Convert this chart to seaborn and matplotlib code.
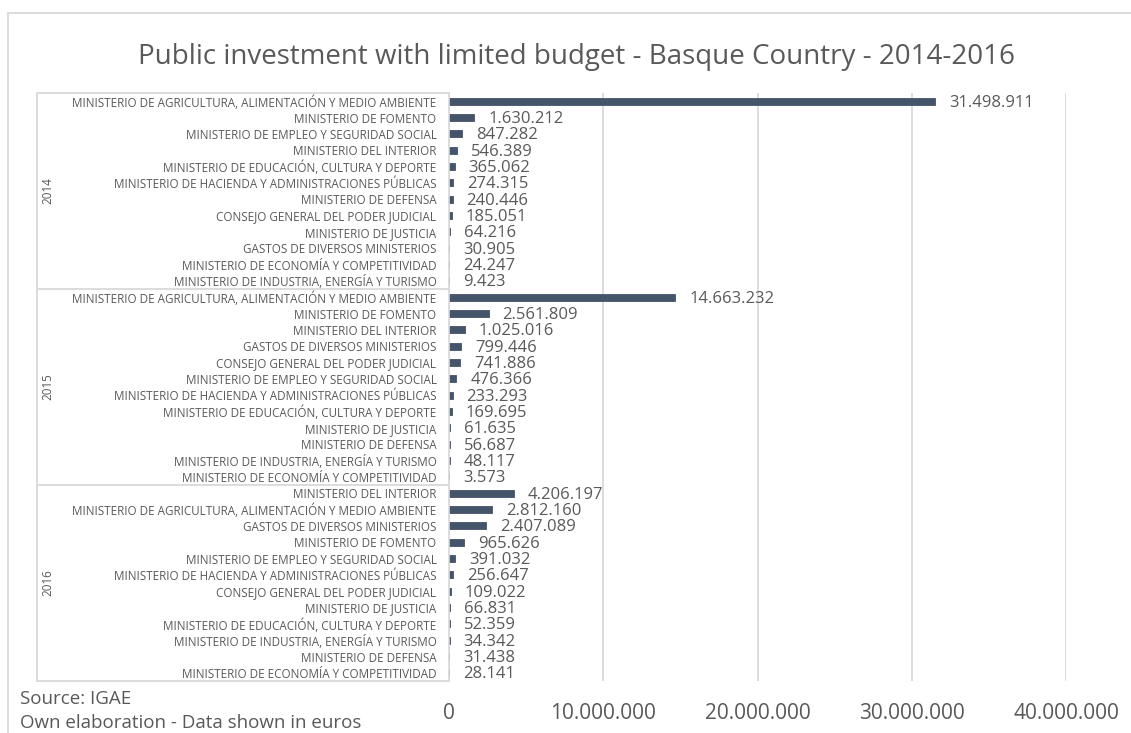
import matplotlib
matplotlib.use("Agg")
import matplotlib.pyplot as plt
import matplotlib.transforms as mtransforms
from matplotlib.patches import Rectangle
import seaborn as sns
import pandas as pd

years = ["2014", "2015", "2016"]

ministries_2014 = [
    "MINISTERIO DE AGRICULTURA, ALIMENTACIÓN Y MEDIO AMBIENTE",
    "MINISTERIO DE FOMENTO",
    "MINISTERIO DE EMPLEO Y SEGURIDAD SOCIAL",
    "MINISTERIO DEL INTERIOR",
    "MINISTERIO DE EDUCACIÓN, CULTURA Y DEPORTE",
    "MINISTERIO DE HACIENDA Y ADMINISTRACIONES PÚBLICAS",
    "MINISTERIO DE DEFENSA",
    "CONSEJO GENERAL DEL PODER JUDICIAL",
    "MINISTERIO DE JUSTICIA",
    "GASTOS DE DIVERSOS MINISTERIOS",
    "MINISTERIO DE ECONOMÍA Y COMPETITIVIDAD",
    "MINISTERIO DE INDUSTRIA, ENERGÍA Y TURISMO",
]
values_2014 = [31498911, 1630212, 847282, 546389, 365062, 274315,
               240446, 185051, 64216, 30905, 24247, 9423]

ministries_2015 = [
    "MINISTERIO DE AGRICULTURA, ALIMENTACIÓN Y MEDIO AMBIENTE",
    "MINISTERIO DE FOMENTO",
    "MINISTERIO DEL INTERIOR",
    "GASTOS DE DIVERSOS MINISTERIOS",
    "CONSEJO GENERAL DEL PODER JUDICIAL",
    "MINISTERIO DE EMPLEO Y SEGURIDAD SOCIAL",
    "MINISTERIO DE HACIENDA Y ADMINISTRACIONES PÚBLICAS",
    "MINISTERIO DE EDUCACIÓN, CULTURA Y DEPORTE",
    "MINISTERIO DE JUSTICIA",
    "MINISTERIO DE DEFENSA",
    "MINISTERIO DE INDUSTRIA, ENERGÍA Y TURISMO",
    "MINISTERIO DE ECONOMÍA Y COMPETITIVIDAD",
]
values_2015 = [14663232, 2561809, 1025016, 799446, 741886, 476366,
               233293, 169695, 61635, 56687, 48117, 3573]

ministries_2016 = [
    "MINISTERIO DEL INTERIOR",
    "MINISTERIO DE AGRICULTURA, ALIMENTACIÓN Y MEDIO AMBIENTE",
    "GASTOS DE DIVERSOS MINISTERIOS",
    "MINISTERIO DE FOMENTO",
    "MINISTERIO DE EMPLEO Y SEGURIDAD SOCIAL",
    "MINISTERIO DE HACIENDA Y ADMINISTRACIONES PÚBLICAS",
    "CONSEJO GENERAL DEL PODER JUDICIAL",
    "MINISTERIO DE JUSTICIA",
    "MINISTERIO DE EDUCACIÓN, CULTURA Y DEPORTE",
    "MINISTERIO DE INDUSTRIA, ENERGÍA Y TURISMO",
    "MINISTERIO DE DEFENSA",
    "MINISTERIO DE ECONOMÍA Y COMPETITIVIDAD",
]
values_2016 = [4206197, 2812160, 2407089, 965626, 391032, 256647,
               109022, 66831, 52359, 34342, 31438, 28141]

x_ticks = [0, 10000000, 20000000, 30000000, 40000000]
title = "Public investment with limited budget - Basque Country - 2014-2016"
source_lines = ["Source: IGAE", "Own elaboration - Data shown in euros"]

rows = []
for yr, mins, vals in zip(years, [ministries_2014, ministries_2015, ministries_2016],
                          [values_2014, values_2015, values_2016]):
    for m, v in zip(mins, vals):
        rows.append({"key": f"{yr}|{m}", "year": yr, "ministry": m, "value": v})
df = pd.DataFrame(rows)

sns.set_theme(style="white")
plt.rcParams["font.family"] = ["Open Sans", "DejaVu Sans"]

TXT = "#595959"
BAR = "#44546A"
GRID = "#D9D9D9"

fig = plt.figure(figsize=(11.31, 7.33), dpi=100)
ax = fig.add_axes([449 / 1131, 1 - 681 / 733, (1066 - 449) / 1131, (681 - 93) / 733])

sns.barplot(data=df, y="key", x="value", orient="h", order=list(df["key"]),
            color=BAR, saturation=1, width=0.42, edgecolor=BAR, linewidth=0.6, ax=ax)

ax.set_xlim(0, 40000000)
ax.set_xticks(x_ticks)
ax.set_xticklabels([f"{t:,}".replace(",", ".") for t in x_ticks], fontsize=15, color=TXT)
ax.tick_params(axis="x", length=0, pad=16)
ax.set_yticks(range(len(df)))
ax.set_yticklabels(df["ministry"], fontsize=8.4, color=TXT)
ax.tick_params(axis="y", length=0, pad=9)
ax.set_xlabel("")
ax.set_ylabel("")
ax.set_ylim(len(df) - 0.5, -0.5)

ax.grid(axis="x", color=GRID, linewidth=1.3)
ax.set_axisbelow(True)
for s in ["top", "right", "bottom"]:
    ax.spines[s].set_visible(False)
ax.spines["left"].set_color(GRID)
ax.spines["left"].set_linewidth(1.2)

for i, v in enumerate(df["value"]):
    ax.annotate(f"{v:,}".replace(",", "."), xy=(v, i), xytext=(10, -1),
                textcoords="offset points", va="center", ha="left",
                fontsize=12, color=TXT)

# year bracket lines and labels
trans = mtransforms.blended_transform_factory(ax.transAxes, ax.transData)
x_left = (37 - 449) / (1066 - 449)
n = len(values_2014)
bounds = [-0.5, n - 0.5, 2 * n - 0.5, 3 * n - 0.5]
for b in bounds:
    ax.plot([x_left, 0], [b, b], transform=trans, color=GRID, lw=1.3, clip_on=False)
ax.plot([x_left, x_left], [bounds[0], bounds[-1]], transform=trans, color=GRID,
        lw=1.3, clip_on=False)
x_year = (48 - 449) / (1066 - 449)
for k, yr in enumerate(years):
    ax.text(x_year, (bounds[k] + bounds[k + 1]) / 2, yr, transform=trans, rotation=90,
            ha="center", va="center", fontsize=8.4, color=TXT)

fig.text(576 / 1131, 1 - 57 / 733, title, ha="center", va="center", fontsize=20, color=TXT)
fig.text(20 / 1131, 1 - 699 / 733, source_lines[0], ha="left", va="center",
         fontsize=13.5, color=TXT)
fig.text(20 / 1131, 1 - 723 / 733, source_lines[1], ha="left", va="center",
         fontsize=13.5, color=TXT)

fig.patches.append(Rectangle((8 / 1131, -0.05), 1.2, 1 - 13 / 733 + 0.05,
                             transform=fig.transFigure, fill=False,
                             edgecolor=GRID, lw=1.3))

fig.savefig("out.png", dpi=100, facecolor="white")
